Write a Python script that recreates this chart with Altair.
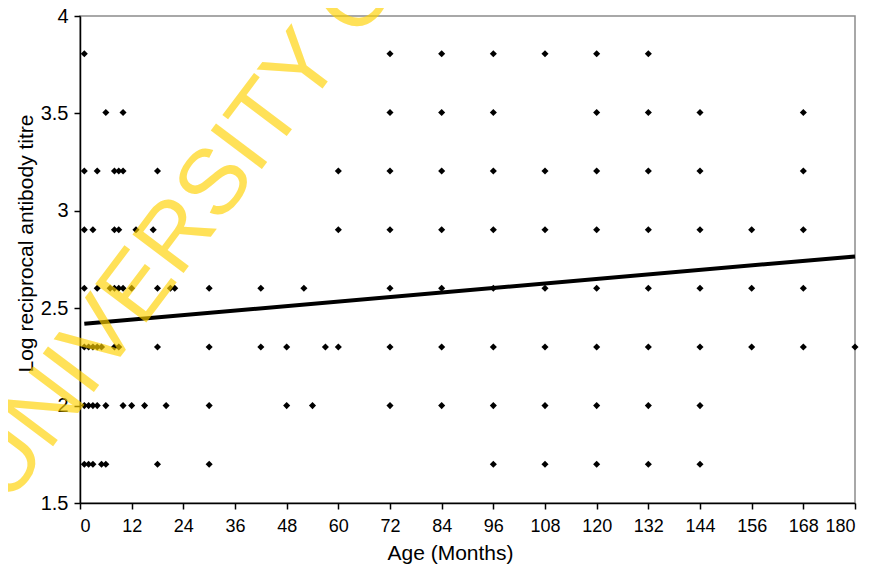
import altair as alt
import pandas as pd

FONT = "Liberation Sans"

# Titre levels (log10 of reciprocal titre)
titre_levels = [3.806, 3.505, 3.204, 2.903, 2.602, 2.301, 2.0, 1.699]

# Ages (months) of the observations at each titre level
ages_38 = [1, 72, 84, 96, 108, 120, 132]
ages_35 = [6, 10, 72, 84, 96, 120, 132, 144, 168]
ages_32 = [1, 4, 8, 9, 10, 18, 60, 72, 84, 96, 108, 120, 132, 144, 168]
ages_29 = [1, 3, 8, 9, 13, 17, 60, 72, 84, 96, 108, 120, 132, 144, 156, 168]
ages_26 = [1, 4, 7, 8, 9, 10, 12, 18, 21, 22, 30, 42, 52, 72, 84, 96, 108, 120,
           132, 144, 156, 168]
ages_23 = [1, 2, 3, 4, 5, 8, 9, 18, 30, 42, 48, 57, 60, 72, 84, 96, 108, 120,
           132, 144, 156, 168, 180]
ages_20 = [1, 2, 3, 4, 6, 10, 12, 15, 20, 30, 48, 54, 72, 84, 96, 108, 120, 132, 144]
ages_17 = [1, 2, 3, 5, 6, 18, 30, 96, 108, 120, 132, 144]

# Fitted regression line
line_age = [1, 180]
line_titre = [2.42, 2.766]

x_ticks = [0, 12, 24, 36, 48, 60, 72, 84, 96, 108, 120, 132, 144, 156, 168, 180]
y_ticks = [1.5, 2, 2.5, 3, 3.5, 4]

watermark = "UNIVERSITY OF"

groups = [ages_38, ages_35, ages_32, ages_29, ages_26, ages_23, ages_20, ages_17]
rows = []
for lvl, ages in zip(titre_levels, groups):
    for a in ages:
        rows.append({"age": a, "titre": lvl})
df = pd.DataFrame(rows)
line_df = pd.DataFrame({"age": line_age, "titre": line_titre})

x_enc = alt.X(
    "age:Q",
    scale=alt.Scale(domain=[0, 180], nice=False, zero=False),
    axis=alt.Axis(values=x_ticks, title="Age (Months)", labelFontSize=18,
                  labelPadding=8, titleX=370, titleY=56,
                  titleAlign="center", titleBaseline="alphabetic"),
)
y_enc = alt.Y(
    "titre:Q",
    scale=alt.Scale(domain=[1.5, 4], nice=False, zero=False),
    axis=alt.Axis(values=y_ticks, format="~g", title="Log reciprocal antibody titre",
                  labelFontSize=20, labelPadding=6, titleAngle=270,
                  titleX=-48, titleY=227, titleAlign="center",
                  titleBaseline="alphabetic"),
)

points = alt.Chart(df).mark_point(
    shape="diamond", filled=True, size=50, color="black", opacity=1
).encode(x=x_enc, y=y_enc)

line = alt.Chart(line_df).mark_line(color="black", strokeWidth=4).encode(
    x="age:Q", y="titre:Q"
)

wm = alt.Chart(pd.DataFrame({"t": [watermark]})).mark_text(
    angle=307, fontSize=93, font=FONT, color="#FFD200", opacity=0.65,
    align="left", baseline="alphabetic"
).encode(x=alt.value(-72), y=alt.value(490), text="t:N")

chart = alt.layer(points, line, wm).properties(
    width=775, height=487,
    padding={"left": 72, "top": 8, "right": 9, "bottom": 63},
    autosize=alt.AutoSizeParams(type="none"),
).configure_view(
    stroke="#8c8c8c", strokeWidth=1.5
).configure_axis(
    grid=False, domainColor="black", domainWidth=1.5, tickColor="black",
    tickWidth=1.5, tickSize=6, labelColor="black", labelFont=FONT,
    titleFont=FONT, titleFontSize=21, titleFontWeight="normal", titleColor="black",
)

chart.save("out.html", embed_options={"renderer": "svg", "actions": False})
